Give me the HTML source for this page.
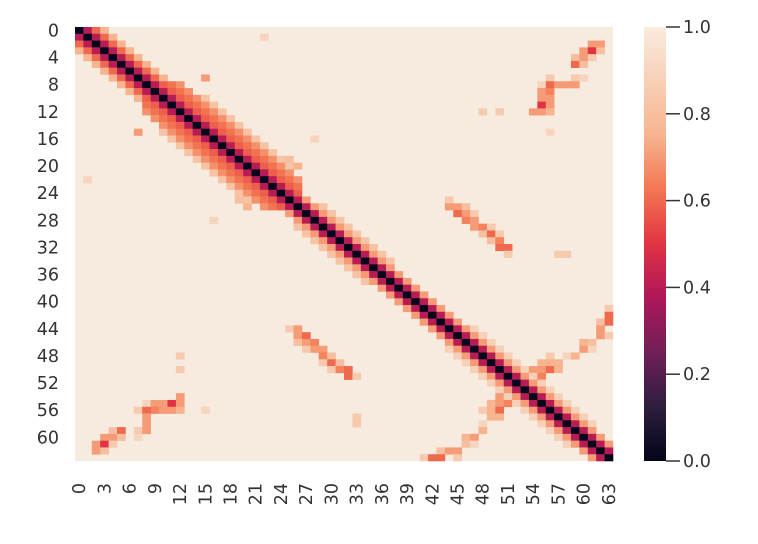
<!DOCTYPE html>
<html><head><meta charset="utf-8"><style>
html,body{margin:0;padding:0;background:#fff;}
svg{display:block;font-family:"DejaVu Sans","Liberation Sans",sans-serif;}
</style></head><body>
<svg id="chart" width="758" height="544" viewBox="0 0 758 544" xmlns="http://www.w3.org/2000/svg">
<defs>
<linearGradient id="cbg" x1="0" y1="1" x2="0" y2="0">
<stop offset="0" stop-color="#03051a"/><stop offset="0.125" stop-color="#2d1e3e"/><stop offset="0.25" stop-color="#701f57"/><stop offset="0.375" stop-color="#ad1759"/><stop offset="0.5" stop-color="#e13342"/><stop offset="0.625" stop-color="#f37651"/><stop offset="0.75" stop-color="#f6b48f"/><stop offset="1" stop-color="#faebdd"/>
</linearGradient>
</defs>
<g id="cells"></g>
<g id="yticks"></g>
<g id="xticks"></g>
<g>
<rect x="644" y="27" width="22" height="434" fill="url(#cbg)"/>
<g id="cbticks"></g>
</g>
</svg>
<script>
const N = 64;
const diagValue = 0;
// band runs: [offset, startRow, endRow, value]
const bands = [
 [1,0,62,0.4],
 [2,0,7,0.6],[2,8,24,0.58],[2,25,61,0.7],
 [3,0,7,0.75],[3,8,23,0.62],[3,26,34,0.82],[3,44,58,0.88],
 [4,8,22,0.68],
 [5,10,20,0.82]
];
// off-diagonal contacts [i, j, value], mirrored
const contacts = [
 [1,22,0.9],[7,15,0.7],[16,28,0.9],[19,25,0.8],[20,26,0.75],
 [2,61,0.7],[2,62,0.7],[3,60,0.7],[3,61,0.5],[3,62,0.8],[4,59,0.8],[4,60,0.7],[4,61,0.85],[5,59,0.6],[5,60,0.8],
 [7,56,0.85],[7,59,0.85],[7,60,0.9],[8,55,0.9],[8,56,0.6],[8,57,0.7],[8,58,0.7],[8,59,0.7],[9,55,0.7],[9,56,0.65],[10,55,0.7],[10,56,0.7],[11,55,0.5],[11,56,0.7],[12,54,0.7],[12,55,0.7],[12,56,0.75],
 [12,48,0.85],[12,50,0.85],[15,56,0.9],
 [25,44,0.85],[26,44,0.7],[26,45,0.7],[26,46,0.8],[27,45,0.6],[27,46,0.7],[27,47,0.85],[28,46,0.65],[28,47,0.7],[29,47,0.7],[29,48,0.65],[29,49,0.85],[30,48,0.8],[30,49,0.6],[30,50,0.85],[31,49,0.8],[31,50,0.65],[32,50,0.6],[32,51,0.6],[33,51,0.85],[33,57,0.85],[33,58,0.85],
 [41,63,0.85],[42,63,0.6],[43,62,0.8],[43,63,0.6],[44,62,0.7],[45,62,0.7],[45,63,0.85],[46,61,0.8],[46,60,0.75],[47,60,0.7],[47,61,0.9],[48,59,0.75],
 [48,56,0.85],[49,57,0.75],[50,54,0.7],[50,55,0.7],[50,56,0.6],[49,55,0.75],[51,55,0.65],[50,57,0.75],[49,56,0.75],[48,58,0.9]
];
const yTickLabels = [0,4,8,12,16,20,24,28,32,36,40,44,48,52,56,60];
const xTickLabels = [0,3,6,9,12,15,18,21,24,27,30,33,36,39,42,45,48,51,54,57,60,63];
const cbTickValues = [0,0.2,0.4,0.6,0.8,1.0];

const X0=75, X1=613, Y0=27, Y1=461;
const cw=(X1-X0)/N, ch=(Y1-Y0)/N;
function xs(c){return X0+c*cw;}
function ys(r){return Y0+r*ch;}
const stops=[[0,[3,5,26]],[0.125,[45,30,62]],[0.25,[112,31,87]],[0.375,[173,23,89]],[0.5,[225,51,66]],[0.625,[243,118,81]],[0.75,[246,180,143]],[1,[247,234,222]]];
function color(v){
 v=Math.max(0,Math.min(1,v));
 for(let k=1;k<stops.length;k++){
  if(v<=stops[k][0]){const a=stops[k-1],b=stops[k],t=(v-a[0])/(b[0]-a[0]);
   return 'rgb('+a[1].map((x,i)=>Math.round(x+(b[1][i]-x)*t)).join(',')+')';}
 }
 return 'rgb(247,234,222)';
}
const M=[];
for(let i=0;i<N;i++){M.push(new Array(N).fill(1));M[i][i]=diagValue;}
bands.forEach(b=>{for(let i=b[1];i<=b[2];i++){const j=i+b[0];if(j<N){M[i][j]=b[3];M[j][i]=b[3];}}});
contacts.forEach(c=>{M[c[0]][c[1]]=c[2];M[c[1]][c[0]]=c[2];});
const NS='http://www.w3.org/2000/svg';
const g=document.getElementById('cells');
const bg=document.createElementNS(NS,'rect');


bg.setAttribute('x',X0);bg.setAttribute('y',Y0);bg.setAttribute('width',X1-X0);bg.setAttribute('height',Y1-Y0);bg.setAttribute('fill',color(1));
g.appendChild(bg);
for(let r=0;r<N;r++)for(let c=0;c<N;c++){
 if(M[r][c]>=1)continue;
 const e=document.createElementNS(NS,'rect');
 
 
 e.setAttribute('x',xs(c).toFixed(2));e.setAttribute('y',ys(r).toFixed(2));
 e.setAttribute('width',(cw+0.3).toFixed(2));e.setAttribute('height',(ch+0.3).toFixed(2));
 e.setAttribute('fill',color(M[r][c]));
 g.appendChild(e);
}
const yg=document.getElementById('yticks');
yTickLabels.forEach(v=>{
 const t=document.createElementNS(NS,'text');
 
 
 t.setAttribute('x',X0-16);t.setAttribute('y',ys(v+0.5)+6);
 t.setAttribute('text-anchor','end');t.setAttribute('font-size','17.5');t.setAttribute('fill','#333');
 t.textContent=v;yg.appendChild(t);
});
const xg=document.getElementById('xticks');
xTickLabels.forEach(v=>{
 const t=document.createElementNS(NS,'text');
 
 
 const x=xs(v+0.5)+6, y=Y1+22;
 t.setAttribute('x',x);t.setAttribute('y',y);
 t.setAttribute('transform','rotate(-90 '+x+' '+y+')');
 t.setAttribute('text-anchor','end');t.setAttribute('font-size','17.5');t.setAttribute('fill','#333');
 t.textContent=v;xg.appendChild(t);
});
const cg=document.getElementById('cbticks');
cbTickValues.forEach(v=>{
 const y=Y1-v*(Y1-Y0);
 const l=document.createElementNS(NS,'line');
 
 
 l.setAttribute('x1',666);l.setAttribute('x2',680);l.setAttribute('y1',y);l.setAttribute('y2',y);
 l.setAttribute('stroke','#333');l.setAttribute('stroke-width','1.5');cg.appendChild(l);
 const t=document.createElementNS(NS,'text');
 
 
 t.setAttribute('x',683);t.setAttribute('y',y+6);t.setAttribute('font-size','17.5');t.setAttribute('fill','#333');
 t.textContent=v.toFixed(1);cg.appendChild(t);
});
</script>
</body></html>
